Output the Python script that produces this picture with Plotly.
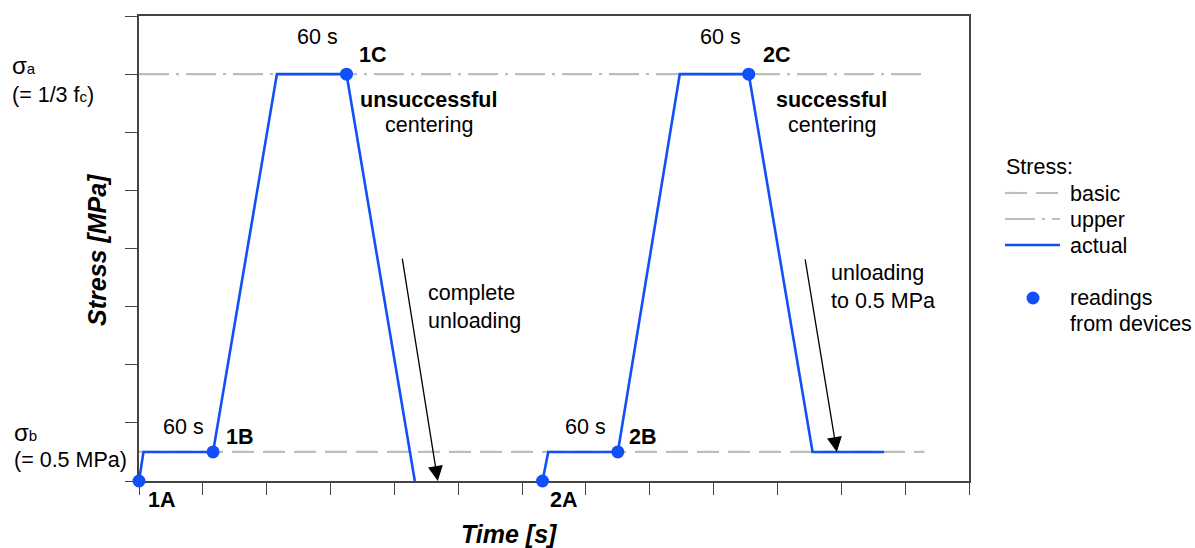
import plotly.graph_objects as go

# ---- data (time in tick units, stress in axis units) ----
t1 = [0, 0.07, 1.16, 2.16, 3.25, 4.32]
s1 = [0, 0.5, 0.5, 7, 7, 0]
t2 = [6.32, 6.41, 7.5, 8.47, 9.55, 10.55, 11.67]
s2 = [0, 0.5, 0.5, 7, 7, 0.5, 0.5]
read_t = [0, 1.16, 3.25, 6.32, 7.5, 9.55]
read_s = [0, 0.5, 7, 0, 0.5, 7]
read_labels = ["1A", "1B", "1C", "2A", "2B", "2C"]
sigma_b = 0.5
sigma_a = 7
ref_end = 12.3
x_ticks = list(range(0, 14))
y_ticks = list(range(0, 9))
legend_labels = ["basic", "upper", "actual"]

FONT = "Liberation Sans, Arial, sans-serif"
BLUE = "#1150F7"
GRAY = "#BDBDBD"
AX = "#444444"
FS = 21.5
DASH_BASIC = "22px,9px"
DASH_UPPER = "30px,7px,3px,7px"

W, H = 1195, 548
# plot area in page pixels
L, R, T, B = 139, 969, 16, 481
def px(xp):
    return (xp - L) / (R - L)
def py(yp):
    return (B - yp) / (B - T)

fig = go.Figure()
fig.add_trace(go.Scatter(x=[0, ref_end], y=[sigma_b, sigma_b], mode="lines",
                         line=dict(color=GRAY, width=2.2, dash=DASH_BASIC),
                         name="basic", showlegend=False))
fig.add_trace(go.Scatter(x=[0, ref_end], y=[sigma_a, sigma_a], mode="lines",
                         line=dict(color=GRAY, width=2.2, dash=DASH_UPPER),
                         name="upper", showlegend=False))
fig.add_trace(go.Scatter(x=t1 + [None] + t2, y=s1 + [None] + s2, mode="lines",
                         line=dict(color=BLUE, width=2.6), name="actual",
                         showlegend=False, cliponaxis=False))
fig.add_trace(go.Scatter(x=read_t, y=read_s, mode="markers",
                         marker=dict(color=BLUE, size=13),
                         name="readings from devices", showlegend=False,
                         cliponaxis=False))

def txt(**kw):
    d = dict(showarrow=False, xanchor="center", yanchor="middle",
             font=dict(size=FS, color="black", family=FONT))
    d.update(kw)
    return d

ann = []
# point labels
offs = {"1A": (0.36, None), "1B": (0.42, 0.26), "1C": (0.40, 0.33),
        "2A": (0.33, None), "2B": (0.39, 0.26), "2C": (0.43, 0.33)}
for tx, sy, lab in zip(read_t, read_s, read_labels):
    dx, dy = offs[lab]
    if dy is None:
        ann.append(txt(x=tx + dx, yref="paper", y=py(500), text="<b>%s</b>" % lab))
    else:
        ann.append(txt(x=tx + dx, y=sy + dy, text="<b>%s</b>" % lab))
# "60 s" labels
for x, y in [(0.69, 0.93), (2.80, 7.64), (6.99, 0.93), (9.10, 7.64)]:
    ann.append(txt(x=x, y=y, text="60 s"))
# centering notes
for x, word in [(4.53, "unsuccessful"), (10.85, "successful")]:
    ann.append(txt(x=x, y=6.55, text="<b>%s</b>" % word))
    ann.append(txt(x=x + 0.01, y=6.12, text="centering"))
# unloading notes
ann.append(txt(x=4.49, y=3.00, text="complete<br>unloading", xanchor="left", align="left"))
ann.append(txt(x=10.81, y=3.34, text="unloading<br>to 0.5 MPa", xanchor="left", align="left"))
# arrows
ann.append(dict(x=4.68, y=0.0, ax=4.12, ay=3.85, axref="x", ayref="y",
                xref="x", yref="y", text="", showarrow=True, arrowhead=2,
                arrowsize=2.3, arrowwidth=1.3, arrowcolor="black"))
ann.append(dict(x=10.93, y=0.5, ax=10.43, ay=3.84, axref="x", ayref="y",
                xref="x", yref="y", text="", showarrow=True, arrowhead=2,
                arrowsize=2.3, arrowwidth=1.3, arrowcolor="black"))
# left stress labels
SM = "<span style='font-size:15px'>%s</span>"
ann.append(txt(xref="paper", x=px(10), y=7.14, xanchor="left",
               text="<span style='font-size:24px'>σ</span>" + SM % "a"))
ann.append(txt(xref="paper", x=px(10), y=6.64, xanchor="left", text="(= 1/3 f" + SM % "c" + ")"))
ann.append(txt(xref="paper", x=px(12), y=0.84, xanchor="left",
               text="<span style='font-size:24px'>σ</span>" + SM % "b"))
ann.append(txt(xref="paper", x=px(12), y=0.36, xanchor="left", text="(= 0.5 MPa)"))
# axis titles
ann.append(txt(xref="paper", yref="paper", x=px(97), y=py(250),
               text="<b><i>Stress [MPa]</i></b>", textangle=-90,
               font=dict(size=25, color="black", family=FONT)))
ann.append(txt(xref="paper", yref="paper", x=px(509), y=py(534),
               text="<b><i>Time [s]</i></b>",
               font=dict(size=25, color="black", family=FONT)))

# ---- manual legend ----
shapes = []
ann.append(txt(xref="paper", yref="paper", x=px(1004), y=py(167), xanchor="left", text="Stress:"))
leg_y = [193, 219, 245]
leg_dash = [DASH_BASIC, DASH_UPPER, "solid"]
leg_col = [GRAY, GRAY, BLUE]
leg_w = [2.2, 2.2, 2.6]
for lab, yy, dsh, col, w in zip(legend_labels, leg_y, leg_dash, leg_col, leg_w):
    shapes.append(dict(type="line", xref="paper", yref="paper",
                       x0=px(1005), x1=px(1060), y0=py(yy), y1=py(yy),
                       line=dict(color=col, width=w, dash=dsh)))
    ann.append(txt(xref="paper", yref="paper", x=px(1068), y=py(yy + 1),
                   xanchor="left", text=lab))
shapes.append(dict(type="circle", xref="paper", yref="paper",
                   x0=px(1026.5), x1=px(1039.5), y0=py(291.5), y1=py(304.5),
                   fillcolor=BLUE, line=dict(width=0)))
ann.append(txt(xref="paper", yref="paper", x=px(1068), y=py(298), xanchor="left", text="readings"))
ann.append(txt(xref="paper", yref="paper", x=px(1068), y=py(324), xanchor="left", text="from devices"))

fig.update_layout(
    width=W, height=H,
    margin=dict(l=L, r=W - R, t=T, b=H - B, autoexpand=False),
    paper_bgcolor="white", plot_bgcolor="white",
    font=dict(family=FONT, size=FS, color="black"),
    annotations=ann, shapes=shapes,
    showlegend=False,
)
fig.update_xaxes(range=[0, 13], tickvals=x_ticks, showticklabels=False,
                 ticks="outside", ticklen=12, tickcolor=AX, tickwidth=1.3,
                 showline=True, linecolor=AX, linewidth=1.5, mirror=True,
                 showgrid=False, zeroline=False, layer="below traces")
fig.update_yaxes(range=[0, 8], tickvals=y_ticks, showticklabels=False,
                 ticks="outside", ticklen=12, tickcolor=AX, tickwidth=1.3,
                 showline=True, linecolor=AX, linewidth=1.5, mirror=True,
                 showgrid=False, zeroline=False, layer="below traces")

fig.write_html("out.html",
               config={"displayModeBar": False},
               post_script="document.body.style.margin='0px';"
                           "document.body.style.overflow='hidden';")
